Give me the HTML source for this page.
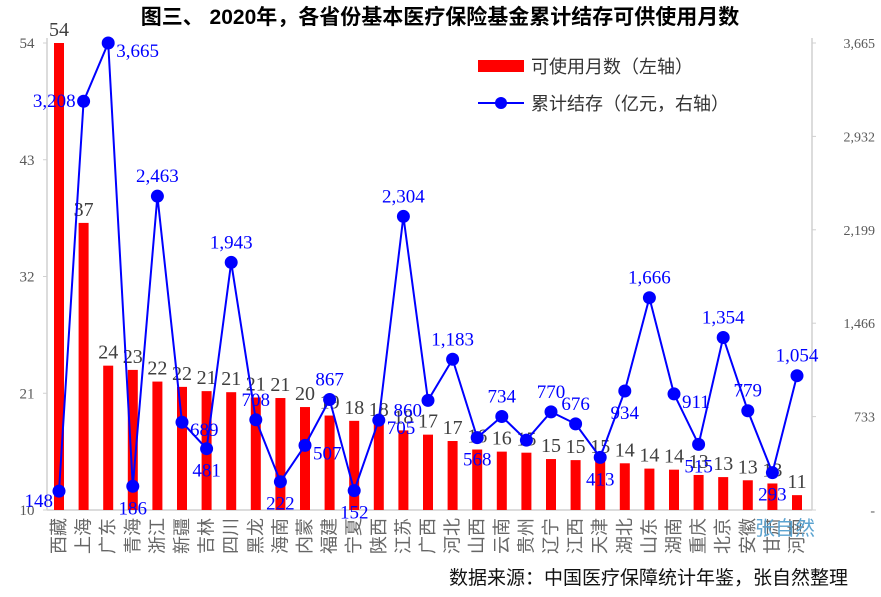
<!DOCTYPE html>
<html><head><meta charset="utf-8"><style>
body{margin:0;background:#fff;}
svg text{font-family:"Liberation Serif","Noto Serif CJK SC",serif;}
</style></head><body>
<svg id="chart" width="881" height="592" viewBox="0 0 881 592">
<text x="440" y="24" text-anchor="middle" font-size="21" font-weight="bold" style="font-family:'Liberation Sans','Noto Sans CJK SC',sans-serif">图三、 2020年，各省份基本医疗保险基金累计结存可供使用月数</text>
<g id="plot"></g>
<g>
<rect x="478" y="60" width="46" height="12" fill="#ff0000"></rect>
<text x="531" y="73" font-size="18" fill="#333" style="font-family:'Liberation Sans','Noto Sans CJK SC',sans-serif">可使用月数（左轴）</text>
<line x1="478" y1="103" x2="524" y2="103" stroke="#0000ff" stroke-width="2"></line>
<circle cx="501" cy="103" r="6" fill="#0000ff"></circle>
<text x="531" y="110" font-size="18" fill="#333" style="font-family:'Liberation Sans','Noto Sans CJK SC',sans-serif">累计结存（亿元，右轴）</text>
</g>
<text x="755" y="535" font-size="20" fill="#5ba3d0" style="font-family:'Liberation Sans','Noto Sans CJK SC',sans-serif">张自然</text>
<text x="848" y="584" text-anchor="end" font-size="19" fill="#111" style="font-family:'Liberation Sans','Noto Sans CJK SC',sans-serif">数据来源：中国医疗保障统计年鉴，张自然整理</text>
</svg>
<script>
const categories=["西藏","上海","广东","青海","浙江","新疆","吉林","四川","黑龙","海南","内蒙","福建","宁夏","陕西","江苏","广西","河北","山西","云南","贵州","辽宁","江西","天津","湖北","山东","湖南","重庆","北京","安徽","甘肃","河南"];
const months=[54,37.05,23.6,23.2,22.1,21.6,21.2,21.1,20.6,20.55,19.7,18.9,18.4,18.2,17.5,17.1,16.5,15.7,15.5,15.4,14.8,14.7,14.7,14.4,13.9,13.8,13.3,13.1,12.8,12.5,11.4];
const balance=[148,3208,3665,186,2463,689,481,1943,708,222,507,867,152,705,2304,860,1183,568,734,548,770,676,413,934,1666,911,515,1354,779,293,1054];
const leftTicks=[10,21,32,43,54];
const rightTicks=[0,733,1466,2199,2932,3665];
const rightTickLabels=["-","733","1,466","2,199","2,932","3,665"];
const labelSide=["bl","l","r","b","a","r","b","a","a","b","r","a","b","r","a","bl","a","b","a","n","a","a","b","b","a","r","b","a","a","b","a"];

const NS="http://www.w3.org/2000/svg";
const g=document.getElementById('plot');
const X0=47,X1=812,Y0=510,YT=43;
const n=categories.length;
const xPos=i=>59+(797-59)/(n-1)*i;
const yL=v=>Y0-(v-10)/(54-10)*(Y0-YT);
const yR=v=>Y0-v/3665*(Y0-YT);
function el(t,a,txt){const e=document.createElementNS(NS,t);for(const k in a)e.setAttribute(k,a[k]);if(txt!=null)e.textContent=txt;g.appendChild(e);return e;}
function fmt(v){return v>=1000?Math.floor(v/1000)+","+String(v%1000).padStart(3,"0"):String(v);}

let e=el('line',{x1:X0,y1:YT-5,x2:X0,y2:Y0,stroke:'#d0d0d0','stroke-width':1.5});


e=el('line',{x1:X0,y1:Y0,x2:X1,y2:Y0,stroke:'#d0d0d0','stroke-width':1.5});


e=el('line',{x1:X1,y1:YT-5,x2:X1,y2:Y0,stroke:'#d0d0d0','stroke-width':1.5});



leftTicks.forEach(t=>{
 const y=yL(t);
 let l=el('line',{x1:X0-4,y1:y,x2:X0,y2:y,stroke:'#d0d0d0'});
 
 
 let tx=el('text',{x:X0-20,y:y+5,'text-anchor':'middle','font-size':15,fill:'#595959'},String(t));
 
 
});
rightTicks.forEach((t,i)=>{
 const y=yR(t);
 let l=el('line',{x1:X1,y1:y,x2:X1+4,y2:y,stroke:'#d0d0d0'});
 
 
 let tx=el('text',{x:875,y:y+5,'text-anchor':'end','font-size':14,fill:'#595959'},rightTickLabels[i]);
 
 
});

categories.forEach((c,i)=>{
 const x=xPos(i), y=yL(months[i]);
 let r=el('rect',{x:x-5,y:y,width:10,height:Y0-y,fill:'#ff0000'});
 
 
 let t=el('text',{x:x,y:y-7,'text-anchor':'middle','font-size':20,fill:'#404040'},String(Math.round(months[i])));
 
 
 let cl=el('text',{x:0,y:0,'text-anchor':'end','font-size':18,fill:'#666',transform:`translate(${x+6},${Y0+8}) rotate(-90)`,style:"font-family:'Liberation Sans','Noto Sans CJK SC',sans-serif"},c);
 
 
});

const pts=balance.map((v,i)=>xPos(i)+','+yR(v)).join(' ');
e=el('polyline',{points:pts,fill:'none',stroke:'#0000ff','stroke-width':2});


balance.forEach((v,i)=>{
 const x=xPos(i), y=yR(v);
 let c=el('circle',{cx:x,cy:y,r:6.5,fill:'#0000ff'});
 
 
 const s=labelSide[i]; if(s==='n')return;
 let lx=x,ly=y-14,anc='middle';
 if(s==='b'){ly=y+28;}
 if(s==='bl'){lx=x-6;ly=y+16;anc='end';}
 if(s==='l'){lx=x-8;ly=y+6;anc='end';}
 if(s==='r'){lx=x+8;ly=y+14;anc='start';}
 let t=el('text',{x:lx,y:ly,'text-anchor':anc,'font-size':19,fill:'#0000ff'},fmt(v));
 
 
});
</script>
</body></html>
